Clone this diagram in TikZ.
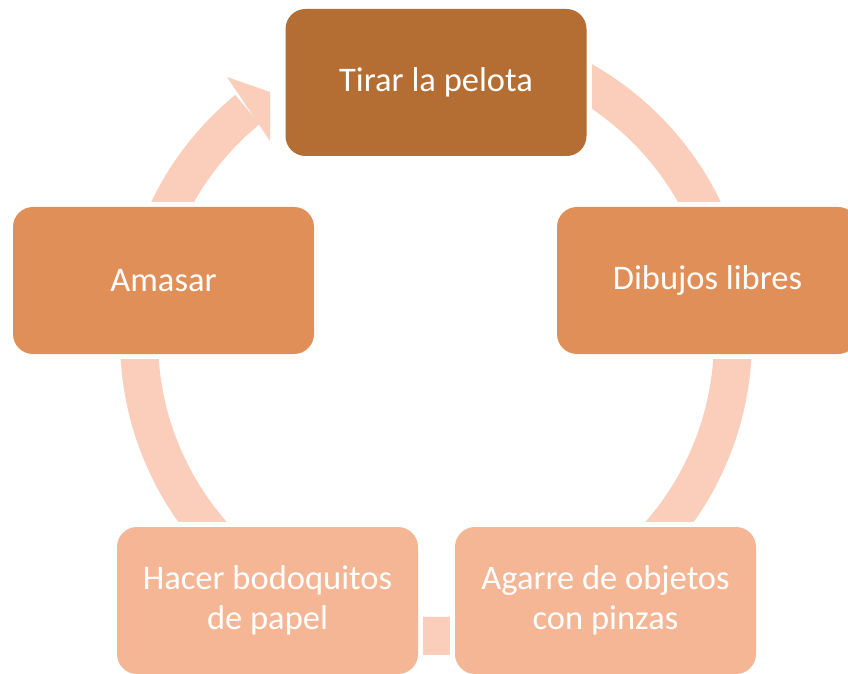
\documentclass[tikz,border=0pt]{standalone}
\usepackage{fontspec}
\setmainfont{Carlito}
\usetikzlibrary{backgrounds}
\definecolor{topc}{RGB}{180,110,52}
\definecolor{midc}{RGB}{224,143,88}
\definecolor{lowc}{RGB}{244,182,148}
\definecolor{ringc}{RGB}{250,206,186}
\tikzset{
  stepbox/.style={rectangle, rounded corners=20pt, minimum width=301pt, minimum height=147pt,
    inner sep=0pt, text=white, align=center, font=\fontsize{34.5}{40}\selectfont},
  cover/.style={fill=white}
}
\begin{document}
\begin{tikzpicture}[x=1pt,y=1pt]
\clip (0,0) rectangle (848,673);
\node[stepbox, fill=topc] (t) at (436,590.5) {Tirar la pelota};
\node[stepbox, fill=midc] (r) at (707.5,392.5) {Dibujos libres};
\node[stepbox, fill=midc] (l) at (163.5,392.5) {Amasar};
\node[stepbox, fill=lowc] (br) at (605.5,72.5) {Agarre de objetos\\con pinzas};
\node[stepbox, fill=lowc] (bl) at (267.5,72.5) {Hacer bodoquitos\\de papel};
\coordinate (c) at (436,334);
\coordinate (h1) at (227,596);
\coordinate (h2) at (270,581);
\coordinate (h3) at (270,532);
\begin{scope}[on background layer]
  \fill[white] (0,0) rectangle (848,673);
  \draw[ringc, line width=38pt] (c) ++(129.4:297) arc[start angle=129.4, end angle=450, radius=297];
  \fill[ringc] (h1) -- (h2) -- (h3) -- cycle;
  \foreach \n in {t,r,l,br,bl}
    \fill[cover] ([shift={(-5,-5)}]\n.south west) rectangle ([shift={(5,5)}]\n.north east);
\end{scope}
\end{tikzpicture}
\end{document}
